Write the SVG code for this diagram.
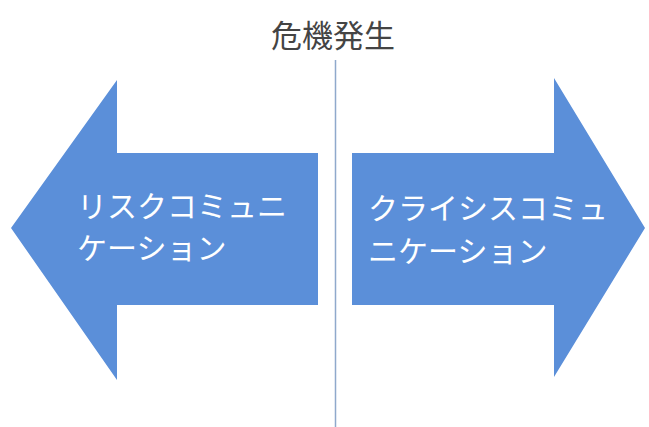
<svg xmlns="http://www.w3.org/2000/svg" width="649" height="427" viewBox="0 0 649 427">
<style>
.arrow{fill:#5b8fd9;}
.lbl{font-family:"Noto Sans CJK JP","Noto Sans",sans-serif;font-size:30px;fill:#ffffff;}
.title{font-family:"Noto Sans CJK JP","Noto Sans",sans-serif;font-size:31px;fill:#444444;}
</style>
<rect width="649" height="427" fill="#ffffff"/>
<g id="connectors">
<line x1="335.5" y1="60" x2="335.5" y2="427" stroke="#8fa9cc" stroke-width="1.5"/>
</g>
<g id="title">
<text class="title" x="333" y="47" text-anchor="middle">危機発生</text>
</g>
<g id="risk">
<polygon class="arrow" points="11,228 117,80 117,153 318,153 318,305 117,305 117,380"/>
<text class="lbl" x="77" y="217">リスクコミュニ</text>
<text class="lbl" x="77" y="259">ケーション</text>
</g>
<g id="crisis">
<polygon class="arrow" points="645,228 554,78 554,153 352,153 352,305 554,305 554,377"/>
<text class="lbl" x="368" y="219">クライシスコミュ</text>
<text class="lbl" x="368" y="262">ニケーション</text>
</g>
</svg>
